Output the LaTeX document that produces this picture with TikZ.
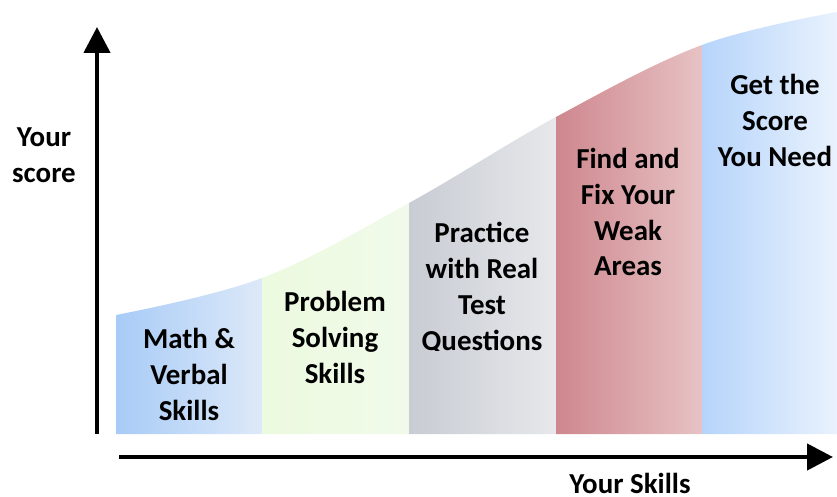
\documentclass[tikz,border=0pt]{standalone}
\usepackage{fontspec}
\setmainfont{Carlito}
\usetikzlibrary{arrows.meta}
\definecolor{mathL}{HTML}{A8CBF7}
\definecolor{mathR}{HTML}{DDE9F8}
\definecolor{probL}{HTML}{ECFADF}
\definecolor{probR}{HTML}{F1FAEA}
\definecolor{pracL}{HTML}{C8CCD3}
\definecolor{pracR}{HTML}{E6E8EB}
\definecolor{fixL}{HTML}{CE878E}
\definecolor{fixR}{HTML}{E7C2C4}
\definecolor{getL}{HTML}{B6D4FB}
\definecolor{getR}{HTML}{E9F2FD}

\begin{document}
\begin{tikzpicture}[x=0.03cm,y=0.03cm,
  stagetext/.style={align=center,inner sep=0pt,font=\bfseries\fontsize{24.7}{30.7}\selectfont},
  axis/.style={line width=3.8pt,-{Triangle[length=0.78cm,width=0.78cm]}}]
\useasboundingbox (0,0) rectangle (837,496);
\begin{scope}
\clip plot[smooth,tension=0.6] coordinates {(116,181) (262,218) (409,293) (556,379) (702,451) (837,484)}
  -- (837,62) -- (116,62) -- cycle;
\shade[left color=mathL,right color=mathR] (116,62) rectangle (262,500);
\shade[left color=probL,right color=probR] (262,62) rectangle (409,500);
\shade[left color=pracL,right color=pracR] (409,62) rectangle (556,500);
\shade[left color=fixL,right color=fixR] (556,62) rectangle (702,500);
\shade[left color=getL,right color=getR] (702,62) rectangle (837,500);
\end{scope}
\draw[axis] (97,62) -- (97,469);
\draw[axis] (119,39) -- (833,39);
\node[stagetext] (yscore) at (44,341) {Your\\score};
\node[stagetext] (mathverbal) at (189,122) {Math \&\\Verbal\\Skills};
\node[stagetext] (problem) at (335,159) {Problem\\Solving\\Skills};
\begin{scope}
\clip (409,146) rectangle (556,400);
\node[stagetext] (practice) at (482,208) {Practice\\with Real\\Test\\Questions};
\end{scope}
\node[stagetext] (findfix) at (628,284) {Find and\\Fix Your\\Weak\\Areas};
\node[stagetext] (getscore) at (775,376) {Get the\\Score\\You Need};
\node[stagetext] (xskills) at (630,13) {Your Skills};
\end{tikzpicture}
\end{document}
